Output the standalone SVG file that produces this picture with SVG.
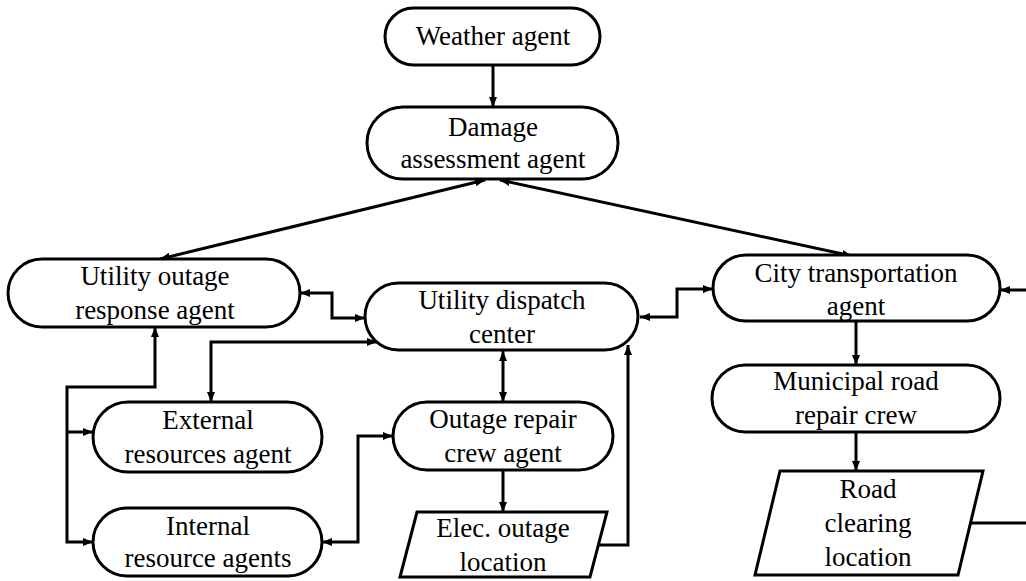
<svg xmlns="http://www.w3.org/2000/svg" width="1026" height="581" viewBox="0 0 1026 581">
<style>
.n{fill:#fff;stroke:#000;stroke-width:3}
.t{font-family:"Liberation Serif","Times New Roman",serif;font-size:27px;fill:#000;text-anchor:middle}
.c{fill:none;stroke:#000;stroke-width:3}
.a2{marker-start:url(#ah);marker-end:url(#ah)}
.a1{marker-end:url(#ah)}
</style>
<defs>
<marker id="ah" markerUnits="userSpaceOnUse" markerWidth="11" markerHeight="9" refX="10" refY="4" orient="auto-start-reverse" viewBox="0 0 11 8">
<path d="M0,0 L10,4 L0,8 z" fill="#000"/>
</marker>
</defs>
<rect width="1026" height="581" fill="#fff"/>
<g id="connectors">
<path class="c a1" d="M493,65 V107"/>
<path class="c a2" d="M485,180 L160,259"/>
<path class="c a2" d="M500,180 L852,256"/>
<path class="c a2" d="M300,293 H332 V318 H365"/>
<path class="c a2" d="M640,317 H677 V289 H713"/>
<path class="c a1" d="M971,523 H1040 V290 H1000"/>
<path class="c a1" d="M856,321 V365"/>
<path class="c a1" d="M856,432 V471"/>
<path class="c a2" d="M377,342 H211 V402"/>
<path class="c a2" d="M155,327 V387 H67 V542 H93"/>
<path class="c a1" d="M67,432 H93"/>
<path class="c a2" d="M503,351 V402"/>
<path class="c a1" d="M503,470 V512"/>
<path class="c a2" d="M322,542 H358 V436 H393"/>
<path class="c a1" d="M599,545 H628 V345"/>
</g>
<g id="weather">
<rect class="n" x="385" y="8" width="215" height="57" rx="28.5"/>
<text class="t" x="493" y="45">Weather agent</text>
</g>
<g id="damage">
<rect class="n" x="367" y="107" width="251" height="72" rx="36"/>
<text class="t" x="493" y="136">Damage</text>
<text class="t" x="493" y="168">assessment agent</text>
</g>
<g id="uora">
<rect class="n" x="8" y="259" width="292" height="68" rx="34"/>
<text class="t" x="155" y="285">Utility outage</text>
<text class="t" x="155" y="319">response agent</text>
</g>
<g id="udc">
<rect class="n" x="365" y="283" width="273" height="67" rx="33.5"/>
<text class="t" x="502" y="309">Utility dispatch</text>
<text class="t" x="502" y="343">center</text>
</g>
<g id="city">
<rect class="n" x="713" y="255" width="287" height="66" rx="33"/>
<text class="t" x="856" y="282">City transportation</text>
<text class="t" x="856" y="315">agent</text>
</g>
<g id="municipal">
<rect class="n" x="712" y="365" width="288" height="67" rx="33.5"/>
<text class="t" x="856" y="390">Municipal road</text>
<text class="t" x="856" y="424">repair crew</text>
</g>
<g id="road">
<polygon class="n" points="780,471 983,471 958,575 755,575"/>
<text class="t" x="868" y="498">Road</text>
<text class="t" x="868" y="532">clearing</text>
<text class="t" x="868" y="566">location</text>
</g>
<g id="external">
<rect class="n" x="93" y="402" width="229" height="70" rx="35"/>
<text class="t" x="208" y="429">External</text>
<text class="t" x="208" y="463">resources agent</text>
</g>
<g id="internal">
<rect class="n" x="93" y="508" width="229" height="68" rx="34"/>
<text class="t" x="208" y="535">Internal</text>
<text class="t" x="208" y="567">resource agents</text>
</g>
<g id="orc">
<rect class="n" x="393" y="402" width="220" height="68" rx="34"/>
<text class="t" x="503" y="428">Outage repair</text>
<text class="t" x="503" y="462">crew agent</text>
</g>
<g id="elec">
<polygon class="n" points="417,512 607,512 590,577 400,577"/>
<text class="t" x="503" y="537">Elec. outage</text>
<text class="t" x="503" y="571">location</text>
</g>
</svg>
